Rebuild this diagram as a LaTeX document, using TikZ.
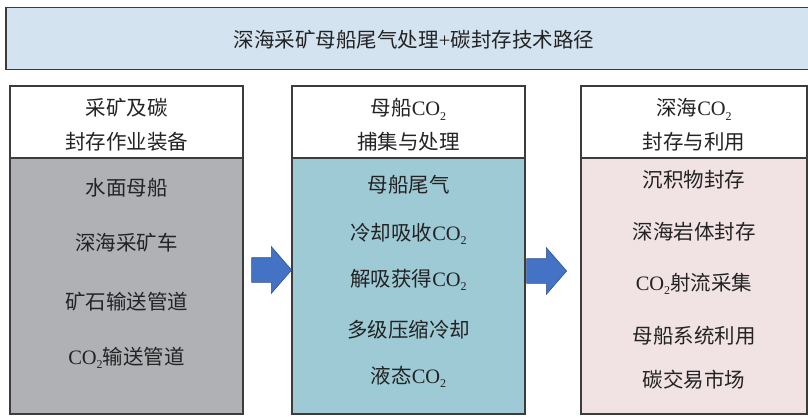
\documentclass[tikz,border=0pt]{standalone}
\usepackage{fontspec}
\setmainfont{Liberation Serif}
\newfontfamily\cjk{Noto Sans CJK SC}
\usetikzlibrary{shapes.arrows}
\definecolor{titlefill}{RGB}{212,227,240}
\definecolor{grayfill}{RGB}{176,177,181}
\definecolor{tealfill}{RGB}{158,202,214}
\definecolor{pinkfill}{RGB}{241,226,228}
\definecolor{boxline}{RGB}{60,60,60}
\definecolor{arrowfill}{RGB}{68,114,196}
\definecolor{arrowline}{RGB}{47,82,143}
\definecolor{txt}{RGB}{35,35,35}
\newcommand\zh[1]{{\cjk #1}}
\newcommand\COt{CO\raisebox{-0.22em}{\fontsize{12}{12}\selectfont 2}}
\begin{document}
\begin{tikzpicture}[x=1pt,y=-1pt,
  every node/.style={text=txt, font=\fontsize{20.5}{34}\selectfont, inner sep=0pt, align=center},
  titlebox/.style={draw=boxline, line width=1.3pt, fill=titlefill},
  headbox/.style={draw=boxline, line width=1.2pt, fill=white, minimum height=72pt},
  bodybox/.style={draw=boxline, line width=1.2pt, minimum height=256pt},
  blockarrow/.style={single arrow, draw=arrowline, line width=0.6pt, fill=arrowfill,
    minimum height=40pt, single arrow head extend=11pt,
    single arrow tip angle=98, inner xsep=0pt, inner ysep=12pt, anchor=tip}]
\useasboundingbox (0,0) rectangle (808,416);
\clip (0,0) rectangle (808,416);
% title
\node[titlebox, minimum width=806pt, minimum height=62pt] (title) at (409,38.5) {};
\node (titletext) at (414,40) {\zh{深海采矿母船尾气处理}+\zh{碳封存技术路径}};
% column 1
\node[headbox, minimum width=233pt] (h1) at (126.5,122) {};
\node[bodybox, fill=grayfill, minimum width=233pt] (b1) at (126.5,286) {};
\node (h1t) at (126.5,125) {\zh{采矿及碳}\\\zh{封存作业装备}};
\node (a1) at (126.5,188) {\zh{水面母船}};
\node (a2) at (126.5,243) {\zh{深海采矿车}};
\node (a3) at (126.5,302) {\zh{矿石输送管道}};
\node (a4) at (126.5,358) {\COt\zh{输送管道}};
% column 2
\node[headbox, minimum width=233pt] (h2) at (408.5,122) {};
\node[bodybox, fill=tealfill, minimum width=233pt] (b2) at (408.5,286) {};
\node (h2t) at (408.5,125) {\zh{母船}\COt\\\zh{捕集与处理}};
\node (c1) at (408.5,185) {\zh{母船尾气}};
\node (c2) at (408.5,234) {\zh{冷却吸收}\COt};
\node (c3) at (408.5,280) {\zh{解吸获得}\COt};
\node (c4) at (408.5,330) {\zh{多级压缩冷却}};
\node (c5) at (408.5,377) {\zh{液态}\COt};
% column 3
\node[headbox, minimum width=226pt] (h3) at (694,122) {};
\node[bodybox, fill=pinkfill, minimum width=226pt] (b3) at (694,286) {};
\node (h3t) at (694,125) {\zh{深海}\COt\\\zh{封存与利用}};
\node (d1) at (694,180) {\zh{沉积物封存}};
\node (d2) at (694,232) {\zh{深海岩体封存}};
\node (d3) at (694,284) {\COt\zh{射流采集}};
\node (d4) at (694,336) {\zh{母船系统利用}};
\node (d5) at (694,380) {\zh{碳交易市场}};
% arrows
\node[blockarrow] (arr1) at (292,270) {};
\node[blockarrow] (arr2) at (567,271) {};
\end{tikzpicture}
\end{document}
